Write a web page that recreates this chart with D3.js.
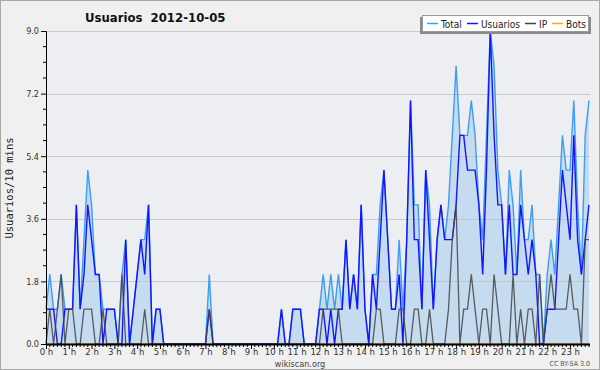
<!DOCTYPE html>
<html><head><meta charset="utf-8">
<script src="https://cdn.jsdelivr.net/npm/d3@7"></script>
<style>
html,body{margin:0;padding:0;background:#f0f0f0;}
svg{display:block;}
</style></head>
<body>
<svg id="c" width="600" height="370"></svg>
<script>
// 144 ten-minute slots of 2012-10-05
const hourLabels = ["0 h","1 h","2 h","3 h","4 h","5 h","6 h","7 h","8 h","9 h","10 h","11 h","12 h","13 h","14 h","15 h","16 h","17 h","18 h","19 h","20 h","21 h","22 h","23 h"];
const yTicks = [0.0, 1.8, 3.6, 5.4, 7.2, 9.0];
const seriesNames = ["Total","Usuarios","IP","Bots"];
const seriesColors = ["#3d9df5","#1414ff","#444444","#ffa020"];

const total = [
1,2,1,1,2,1,1,1,4,1, 3,5,4,2,2,1,1,1,1,0, 2,3,0,1,2,3,3,4,0,1,
1,0,0,0,0,0,0,0,0,0, 0,0,0,2,0,0,0,0,0,0, 0,0,0,0,0,0,0,0,0,0,
0,0,1,0,0,1,1,1,0,0, 0,0,1,2,1,2,1,2,1,3, 1,2,1,4,1,0,2,2,4,5,
3,1,1,3,1,3,7,4,4,1, 5,4,1,3,4,3,4,6,8,6, 6,6,7,6,4,3,6,9,8,5,
4,2,5,4,2,5,3,3,4,2, 2,0,2,3,2,4,6,5,5,7, 4,2,6,7];
const usuarios = [
1,1,1,0,0,1,1,1,4,1, 2,4,3,2,2,0,1,1,1,0, 0,3,0,1,2,3,2,4,0,1,
1,0,0,0,0,0,0,0,0,0, 0,0,0,1,0,0,0,0,0,0, 0,0,0,0,0,0,0,0,0,0,
0,0,1,0,0,1,1,1,0,0, 0,0,1,1,0,1,0,1,1,3, 1,2,1,4,1,0,2,1,3,5,
3,1,1,2,0,3,7,3,3,1, 5,3,1,3,4,3,3,3,4,6, 6,5,5,5,4,2,5,9,6,4,
4,2,4,2,2,4,3,2,3,2, 0,0,1,1,1,3,5,4,3,6, 3,2,3,4];
const ip = [
0,1,0,1,2,0,1,1,0,0, 1,1,1,0,0,1,0,0,0,0, 2,0,0,0,0,0,1,0,0,0,
0,0,0,0,0,0,0,0,0,0, 0,0,0,1,0,0,0,0,0,0, 0,0,0,0,0,0,0,0,0,0,
0,0,0,0,0,0,0,0,0,0, 0,0,0,1,1,1,1,1,0,0, 0,0,0,0,0,0,0,1,1,0,
0,0,0,1,1,0,0,1,1,0, 0,1,0,0,0,0,1,3,4,0, 1,1,2,1,0,1,1,0,2,1,
0,0,0,2,0,1,0,1,1,0, 2,0,1,2,1,1,1,1,2,1, 1,0,3,3];
const bots = new Array(144).fill(0);

const svg = d3.select("#c");
const W = 600, H = 370;
const L = 46, R = 589, T = 31, B = 344;
const FONT = "DejaVu Sans Condensed, DejaVu Sans";

// background and frame
svg.append("rect").attr("x",0.5).attr("y",0.5).attr("width",W-1).attr("height",H-1)
  .attr("fill","#f0f0f0").attr("stroke","#a8a8a8");
svg.append("rect").attr("x",L).attr("y",T).attr("width",R-L+1).attr("height",B-T)
  .attr("fill","#eceef1");

const x = d3.scaleLinear().domain([0,143]).range([L,R]);
const y = d3.scaleLinear().domain([0,9]).range([B,T]);
const idx = d3.range(144);

// area of total
svg.append("path").datum(idx)
  .attr("d", d3.area().x(i=>x(i)).y0(B).y1(i=>y(total[i])))
  .attr("fill","#c4dbf0");

// gridlines
svg.append("g").selectAll("line").data(yTicks.filter(v=>v>0)).join("line")
  .attr("x1",L).attr("x2",R+1).attr("y1",d=>Math.round(y(d))+0.5).attr("y2",d=>Math.round(y(d))+0.5)
  .attr("stroke","#bfbfbf").attr("stroke-opacity",0.8).attr("stroke-width",1);

// lines
const lineGen = arr => d3.line().x(i=>x(i)).y(i=>y(arr[i]))(idx);
[[bots,3],[total,0],[usuarios,1],[ip,2]].forEach(([arr,c])=>{
  svg.append("path").attr("d",lineGen(arr)).attr("fill","none")
    .attr("stroke",seriesColors[c]).attr("stroke-width",c===2?1.3:1.4)
    .attr("stroke-opacity",c===2?0.85:1).attr("stroke-linejoin","miter");
});

// y axis
const yAxis = d3.axisLeft(y).tickValues(yTicks).tickFormat(d3.format(".1f")).tickSize(5).tickPadding(2);
const gy = svg.append("g").attr("transform",`translate(${L},0)`).call(yAxis);
gy.select(".domain").attr("stroke","#000");
gy.selectAll(".tick line").attr("stroke","#000");
gy.selectAll("text").attr("font-family",FONT).attr("font-size",9).attr("fill","#333");
const yMinor = d3.range(0,9.001,0.45).filter(v=>!yTicks.some(t=>Math.abs(t-v)<1e-6));
svg.append("g").selectAll("line").data(yMinor).join("line")
  .attr("x1",L-3).attr("x2",L).attr("y1",d=>y(d)).attr("y2",d=>y(d)).attr("stroke","#000");

// x axis
const xAxis = d3.axisBottom(x).tickValues(d3.range(0,144,6)).tickFormat((d,i)=>hourLabels[i]).tickSize(5).tickPadding(1);
const gx = svg.append("g").attr("transform",`translate(0,${B})`).call(xAxis);
gx.select(".domain").attr("stroke","#000").attr("stroke-width",2).attr("d",`M${L},0.5H${R+1}`);
gx.selectAll(".tick line").attr("stroke","#000");
gx.selectAll("text").attr("y",11).attr("dy",null).attr("font-family",FONT).attr("font-size",9.5).attr("fill","#333");
svg.append("g").selectAll("line").data(idx.filter(i=>i%6!==0)).join("line")
  .attr("x1",i=>x(i)).attr("x2",i=>x(i)).attr("y1",B).attr("y2",B+3).attr("stroke","#000");

// title
svg.append("text").attr("x",85).attr("y",22).text("Usuarios  2012-10-05")
  .attr("font-family",FONT).attr("font-weight","bold")
  .attr("font-size",13).attr("fill","#111").style("white-space","pre");

// y label
svg.append("text").attr("transform","translate(13,188) rotate(-90)").attr("text-anchor","middle")
  .text("Usuarios/10 mins").attr("font-family","DejaVu Sans Mono").attr("font-size",10.5).attr("fill","#222");

// footer
svg.append("text").attr("x",300).attr("y",367).attr("text-anchor","middle").text("wikiscan.org")
  .attr("font-family",FONT).attr("font-size",9).attr("fill","#444");
svg.append("text").attr("x",590).attr("y",366).attr("text-anchor","end").text("CC BY-SA 3.0")
  .attr("font-family",FONT).attr("font-size",7).attr("fill","#555");

// legend
const lg = svg.append("g");
lg.append("rect").attr("x",420).attr("y",17).attr("width",171).attr("height",17).attr("fill","#8a8a8a");
lg.append("rect").attr("x",422.5).attr("y",15.5).attr("width",166).attr("height",16).attr("fill","#fff").attr("stroke","#9a9a9a");
const legItems = [
  {n:0, lx:427, tx:441},
  {n:1, lx:467, tx:481},
  {n:2, lx:525, tx:539},
  {n:3, lx:552, tx:566}
];
legItems.forEach(it=>{
  lg.append("line").attr("x1",it.lx).attr("x2",it.lx+11).attr("y1",23.5).attr("y2",23.5)
    .attr("stroke",seriesColors[it.n]).attr("stroke-width",1.5);
  lg.append("text").attr("x",it.tx).attr("y",27.5).text(seriesNames[it.n])
    .attr("font-family",FONT).attr("font-size",10).attr("fill","#222");
});
</script>
</body></html>
